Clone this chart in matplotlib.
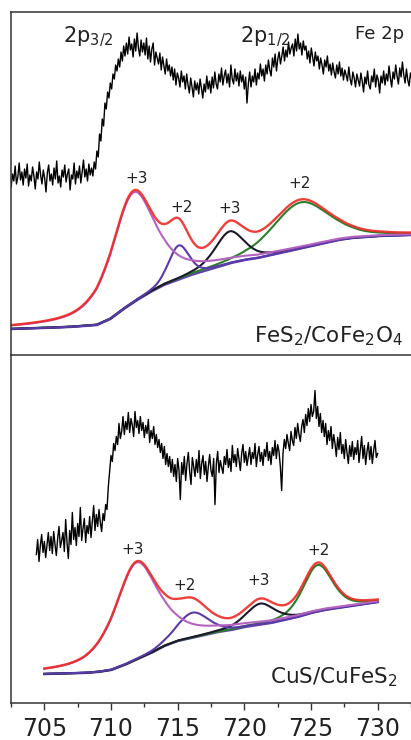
import numpy as np
import matplotlib
matplotlib.use("Agg")
import matplotlib.pyplot as plt

plt.rcParams['font.family'] = ['DejaVu Sans']
plt.rcParams['mathtext.fontset'] = 'dejavusans'
plt.rcParams['mathtext.default'] = 'regular'

# ---- raw spectra (arb. counts), 0.1 eV steps ----
top_range = (702.6, 732.5)
top_counts = [
    168, 181, 174, 189, 171, 178, 192, 175, 183, 170,
    186, 177, 191, 169, 180, 174, 188, 179, 166, 183,
    176, 193, 180, 171, 185, 177, 163, 182, 190, 174,
    181, 170, 187, 176, 194, 172, 179, 168, 185, 178,
    190, 173, 181, 186, 165, 180, 176, 192, 171, 184,
    177, 189, 172, 183, 195, 178, 186, 174, 191, 180,
    187, 179, 193, 186, 204, 198, 221, 214, 236, 229,
    252, 246, 263, 257, 272, 266, 281, 276, 290, 284,
    296, 288, 303, 294, 309, 299, 312, 301, 318, 305,
    311, 298, 316, 304, 322, 307, 299, 315, 303, 312,
    300, 317, 296, 309, 293, 306, 312, 290, 303, 297,
    291, 302, 285, 298, 289, 281, 296, 284, 290, 279,
    288, 275, 286, 270, 282, 277, 268, 284, 273, 279,
    266, 281, 270, 262, 277, 268, 258, 274, 265, 272,
    261, 276, 267, 257, 271, 263, 279, 266, 274, 262,
    278, 267, 283, 271, 266, 281, 273, 287, 270, 279,
    285, 272, 281, 268, 290, 276, 271, 286, 274, 282,
    269, 284, 273, 280, 266, 278, 252, 271, 283, 268,
    279, 273, 286, 270, 282, 276, 291, 279, 286, 274,
    290, 281, 295, 285, 279, 297, 288, 301, 284, 296,
    303, 291, 299, 308, 294, 305, 298, 313, 301, 307,
    311, 299, 316, 304, 321, 306, 312, 300, 314, 305,
    309, 296, 304, 292, 307, 298, 289, 303, 294, 299,
    286, 297, 290, 281, 295, 288, 299, 284, 291, 280,
    292, 283, 277, 290, 281, 293, 279, 287, 275, 285,
    280, 274, 288, 276, 270, 283, 277, 268, 281, 275,
    269, 282, 274, 263, 278, 271, 284, 270, 266, 279,
    273, 286, 268, 280, 275, 262, 279, 272, 284, 270,
    281, 274, 289, 277, 268, 283, 276, 290, 279, 271,
    287, 278, 293, 280, 272, 286, 275, 269, 282, 276,
]

bot_range = (704.4, 730.0)
bot_counts = [
    148, 163, 141, 157, 168, 150, 161, 145, 158, 170,
    152, 166, 149, 171, 158, 147, 164, 176, 155, 162,
    170, 151, 183, 160, 144, 172, 158, 190, 163, 175,
    157, 179, 166, 195, 162, 174, 184, 160, 177, 169,
    186, 165, 181, 197, 172, 188, 176, 193, 180, 171,
    189, 182, 198, 193, 216, 232, 247, 241, 259, 252,
    266, 258, 279, 264, 271, 286, 268, 281, 273, 290,
    270, 284, 277, 266, 291, 275, 282, 269, 286, 272,
    280, 265, 277, 269, 283, 260, 272, 264, 276, 258,
    268, 255, 263, 250, 259, 244, 256, 238, 249, 236,
    246, 230, 243, 226, 238, 221, 244, 232, 203, 240,
    228, 246, 222, 239, 250, 231, 218, 245, 236, 226,
    243, 230, 252, 224, 239, 247, 228, 241, 221, 236,
    248, 232, 226, 244, 198, 239, 251, 230, 242, 235,
    229, 246, 238, 253, 235, 244, 231, 257, 240, 248,
    236, 254, 243, 232, 249, 258, 240, 251, 237, 246,
    255, 238, 250, 244, 259, 236, 248, 256, 241, 250,
    237, 253, 246, 260, 242, 251, 238, 255, 247, 262,
    244, 258, 251, 236, 212, 249, 263, 254, 268, 259,
    252, 271, 262, 257, 275, 264, 279, 268, 261, 276,
    283, 270, 288, 277, 294, 281, 298, 286, 291, 312,
    284, 296, 276, 289, 270, 282, 266, 279, 258, 272,
    262, 276, 254, 268, 259, 246, 265, 253, 270, 249,
    258, 244, 263, 250, 239, 257, 246, 261, 243, 255,
    248, 262, 240, 253, 266, 244, 257, 238, 251, 260,
    243, 256, 239, 252, 262, 245, 249,
]

# ---- fitted background (Shirley-like) ----
top_bg_e = [702.6, 705, 707, 709, 710, 711, 712, 713, 714, 715, 716, 717, 718,
            719, 720, 721, 722, 723, 724, 725, 726, 727, 728, 729, 730, 732.4]
top_bg_i = [26, 27, 28, 30, 36, 46, 55, 63, 70, 75, 80, 84, 88,
            92, 95, 97, 100, 103, 106, 109, 112, 115, 117, 118, 119, 120]
bot_bg_e = [705, 708, 709, 710, 711, 712, 713, 714, 715, 716, 717, 718, 719,
            720, 721, 722, 723, 724, 725, 726, 727, 728, 729, 730]
bot_bg_i = [28.5, 29.5, 30.5, 32.5, 37.5, 43.5, 49.5, 56.5, 61.5, 64.5, 67.5, 70.5, 72.5,
            75.5, 77.5, 79.5, 82.5, 85.5, 89.5, 92.5, 94.5, 96.5, 98.5, 100.5]

# ---- fitted peaks: Fe3+ 2p3/2, Fe2+ sat, Fe3+, Fe2+ 2p1/2 ----
peak_labels = ['+3', '+2', '+3', '+2']
peak_colors = ['#b463c0', '#5a3aa8', '#1c1a2a', '#2a802a']
top_center = [711.7, 715.1, 718.9, 724.2]
top_height = [110, 34, 32, 46]
top_hwhm = [2.0, 0.9, 1.3, 2.5]
top_eta = [0.7, 0.3, 0.5, 0.4]
bot_center = [711.9, 716.1, 721.2, 725.5]
bot_height = [97, 25, 21, 46.5]
bot_hwhm = [2.0, 1.4, 1.3, 1.3]
bot_eta = [0.7, 0.3, 0.5, 0.4]

top_lab_xy = [(712.0, 172), (715.3, 143), (718.9, 142), (724.1, 167)]
bot_lab_xy = [(711.6, 148.5), (715.5, 112.5), (721.1, 117.5), (725.6, 147.5)]


def pvoigt(x, c, h, w, eta):
    u = (x - c) / w
    return h * (eta / (1 + u ** 2) + (1 - eta) * np.exp(-np.log(2) * u ** 2))


def draw_panel(ax, rng, counts, bg_e, bg_i, cen, hgt, hw, eta, lab_xy):
    xs = np.linspace(rng[0], rng[1], len(counts))
    ax.plot(xs, counts, color='black', lw=1.0)

    grid = np.linspace(bg_e[0], bg_e[-1], 500)
    bg = np.interp(grid, bg_e, bg_i)
    comps = [pvoigt(grid, c, h, w, e) for c, h, w, e in zip(cen, hgt, hw, eta)]
    env = bg + np.sum(comps, axis=0)
    ax.plot(grid, bg, color='#5d45aa', lw=1.8)
    for comp, col in list(zip(comps, peak_colors))[::-1]:
        ax.plot(grid, bg + comp, color=col, lw=1.5)
    ax.plot(grid, env, color='#ee2a24', lw=1.7, alpha=0.9)
    for lab, (lx, ly) in zip(peak_labels, lab_xy):
        ax.text(lx, ly, lab, fontsize=11, ha='center', va='baseline', color='#222222')


fig = plt.figure(figsize=(4.11, 7.40), dpi=100)
left = 11 / 411
ax1 = fig.add_axes([left, 1 - 355 / 740, 1 - left, 343 / 740])
ax2 = fig.add_axes([left, 1 - 702.5 / 740, 1 - left, 347.5 / 740])

draw_panel(ax1, top_range, top_counts, top_bg_e, top_bg_i,
           top_center, top_height, top_hwhm, top_eta, top_lab_xy)
draw_panel(ax2, bot_range, bot_counts, bot_bg_e, bot_bg_i,
           bot_center, bot_height, bot_hwhm, bot_eta, bot_lab_xy)

xlim = (702.59, 732.44)
ax1.set_xlim(*xlim)
ax2.set_xlim(*xlim)
ax1.set_ylim(0, 343)
ax2.set_ylim(0, 347.5)

for ax in (ax1, ax2):
    ax.patch.set_alpha(0)
    ax.spines['right'].set_visible(False)
    for s in ax.spines.values():
        s.set_color('#333333')
        s.set_linewidth(1.1)
    ax.set_yticks([])
ax1.spines['bottom'].set_visible(False)
ax1.set_xticks([])

ax2.set_xticks(np.arange(705, 731, 5))
ax2.set_xticks(np.arange(702.5, 733, 2.5), minor=True)
ax2.tick_params(axis='x', which='major', length=4.7, width=1.0, color='#333333',
                labelsize=17, pad=6, labelcolor='#222222')
ax2.tick_params(axis='x', which='minor', length=3, width=1.0, color='#333333')

ax1.text(706.47, 313, '2p$_{3/2}$', fontsize=15, ha='left', va='baseline', color='#222222')
ax1.text(719.68, 313, '2p$_{1/2}$', fontsize=15, ha='left', va='baseline', color='#222222')
ax1.text(731.9, 316, 'Fe 2p', fontsize=13, ha='right', va='baseline', color='#222222')
ax1.text(731.8, 13, 'FeS$_2$/CoFe$_2$O$_4$', fontsize=15.5, ha='right', va='baseline',
         color='#222222')
ax2.text(731.5, 19.5, 'CuS/CuFeS$_2$', fontsize=15.5, ha='right', va='baseline',
         color='#222222')

fig.savefig('out.png', dpi=100)
